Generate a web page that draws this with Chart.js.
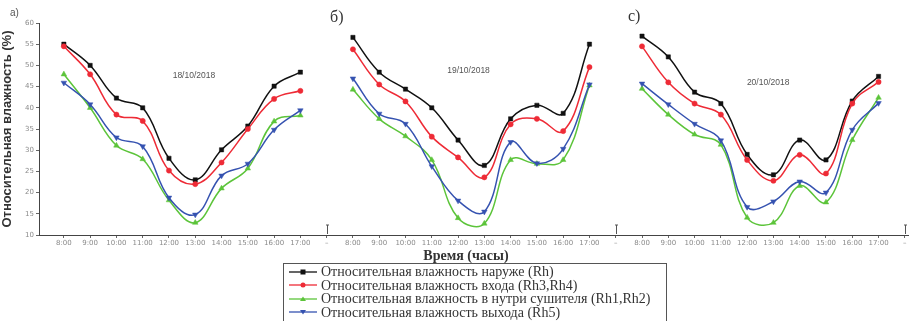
<!DOCTYPE html>
<html><head><meta charset="utf-8">
<script src="https://cdn.jsdelivr.net/npm/chart.js@4.4.1/dist/chart.umd.min.js"></script>
<style>
html,body{margin:0;padding:0;background:#fff;}
#wrap{position:relative;width:913px;height:321px;overflow:hidden;}
#c{position:absolute;left:0;top:0;}
.t{position:absolute;white-space:nowrap;color:#333;}
.serif{font-family:'Liberation Serif','DejaVu Serif',serif;}
.sans{font-family:'Liberation Sans','DejaVu Sans',sans-serif;}
#legend{position:absolute;left:283px;top:263px;width:384px;height:70px;border:1px solid #555;box-sizing:border-box;font-family:'Liberation Serif',serif;font-size:14px;color:#333;padding-top:1px;}
.row{height:13.5px;line-height:13.5px;display:flex;align-items:center;}
.row svg{margin-left:5px;margin-right:4px;flex:none;}
</style></head>
<body><div id="wrap">
<canvas id="c" width="913" height="321"></canvas>
<div class="t sans" style="left:10px;top:7px;font-size:10px;color:#555;">а)</div>
<div class="t serif" style="left:330px;top:8px;font-size:16px;">б)</div>
<div class="t serif" style="left:628px;top:7px;font-size:16px;">с)</div>
<div id="dates"></div>
<div class="t serif" style="left:466px;top:248px;transform:translateX(-50%);font-size:14px;font-weight:bold;color:#333;">Время (часы)</div>
<div id="legend"></div>
</div>
<script>
// ---- data ----
const timeLabels = ['8:00','9:00','10:00','11:00','12:00','13:00','14:00','15:00','16:00','17:00'];
const breakLabel = '–';
const dates = ['18/10/2018','19/10/2018','20/10/2018'];
const yTicks = [10,15,20,25,30,35,40,45,50,55,60];

const seriesNames = [
  'Относительная влажность наруже (Rh)',
  'Относительная влажность входа (Rh3,Rh4)',
  'Относительная влажность в нутри сушителя (Rh1,Rh2)',
  'Относительная влажность выхода (Rh5)'
];

// outside humidity (Rh)
const rhOut_a = [55.0,50.0,42.3,40.0,28.1,23.0,30.1,35.7,45.1,48.4];
const rhOut_b = [56.6,48.4,44.4,40.0,32.4,26.4,37.4,40.6,38.7,55.0];
const rhOut_c = [56.9,52.0,43.7,41.0,29.0,24.2,32.4,27.7,41.6,47.4];
// inlet humidity (Rh3,Rh4)
const rhIn_a = [54.5,47.9,38.4,36.9,25.2,22.0,27.1,35.0,42.1,44.0];
const rhIn_b = [53.8,45.5,41.5,33.2,28.3,23.6,36.1,37.4,34.5,49.6];
const rhIn_c = [54.5,46.0,41.0,38.4,27.7,22.8,28.9,24.5,41.0,46.1];
// inside dryer (Rh1,Rh2)
const rhDry_a = [47.9,40.0,31.1,27.9,18.2,12.9,21.0,25.7,36.8,38.2];
const rhDry_b = [44.3,37.4,33.3,27.7,14.0,12.7,27.7,26.8,27.7,45.3];
const rhDry_c = [44.5,38.4,33.7,31.3,14.1,12.9,21.6,17.7,32.4,42.4];
// outlet (Rh5)
const rhExit_a = [45.9,40.8,33.0,30.9,18.8,14.8,24.0,26.8,34.8,39.4];
const rhExit_b = [46.9,38.6,36.2,26.2,18.1,15.5,31.9,26.9,30.3,45.5];
const rhExit_c = [45.7,40.8,36.2,32.3,16.6,17.9,22.6,20.0,34.8,41.1];

// ---- build ----
const xLabels = [...timeLabels, breakLabel, ...timeLabels, breakLabel, ...timeLabels, breakLabel];
function build(a,b,c){
  const out=[];
  [a,b,c].forEach((arr,p)=>{
    arr.forEach((v,i)=>out.push({x:p*11+i,y:v}));
    out.push({x:p*11+10,y:null});
  });
  return out;
}
const styles = [
  {color:'#111111', point:'rect', r:3},
  {color:'#ee2b36', point:'circle', r:2.6},
  {color:'#5cc43a', point:'triangle', r:3.2},
  {color:'#3552b0', point:'triangle', r:3.2, rot:180}
];
const seriesData = [
  build(rhOut_a,rhOut_b,rhOut_c),
  build(rhIn_a,rhIn_b,rhIn_c),
  build(rhDry_a,rhDry_b,rhDry_c),
  build(rhExit_a,rhExit_b,rhExit_c)
];
const datasets = seriesData.map((d,i)=>({
  label: seriesNames[i],
  data: d,
  borderColor: styles[i].color,
  backgroundColor: styles[i].color,
  borderWidth: 1.5,
  pointStyle: styles[i].point,
  pointRadius: styles[i].r,
  pointRotation: styles[i].rot||0,
  pointBorderWidth: 0.5,
  tension: 0.4,
  spanGaps: false
}));
datasets.reverse();

const breakPlugin = {
  id:'breaks',
  afterDraw(chart){
    const {ctx, scales:{x,y}} = chart;
    ctx.save();
    ctx.strokeStyle='#555'; ctx.lineWidth=1;
    [10,21,32].forEach(v=>{
      const px = Math.round(x.getPixelForValue(v))+0.5;
      const py = y.getPixelForValue(10);
      ctx.beginPath(); ctx.moveTo(px,py-10); ctx.lineTo(px,py-1); ctx.stroke();
      ctx.beginPath(); ctx.moveTo(px-1.5,py-10); ctx.lineTo(px+1.5,py-10); ctx.stroke();
    });
    ctx.restore();
  }
};

const chart = new Chart(document.getElementById('c'), {
  type:'line',
  data:{datasets},
  plugins:[breakPlugin],
  options:{
    responsive:false, animation:false, devicePixelRatio:1,
    layout:{padding:{top:23,right:0,left:0,bottom:0}},
    plugins:{legend:{display:false}, tooltip:{enabled:false}},
    scales:{
      x:{
        type:'linear', min:-0.946, max:32.14,
        afterBuildTicks: s=>{ s.ticks = xLabels.map((_,i)=>({value:i})); },
        afterFit: s=>{ s.height = 86; },
        ticks:{autoSkip:false, maxRotation:0, padding:1, color:'#8a8a8a',
               font:{family:'DejaVu Sans', size:7}, callback:v=>xLabels[v]},
        grid:{drawOnChartArea:false, tickLength:3, color:'#666'},
        border:{color:'#444', width:1}
      },
      y:{
        min:10, max:60,
        afterBuildTicks: s=>{ s.ticks = yTicks.map(v=>({value:v})); },
        afterFit: s=>{ s.width = 39; },
        ticks:{padding:2, color:'#8a8a8a', font:{family:'DejaVu Sans', size:7}},
        grid:{drawOnChartArea:false, tickLength:3, color:'#666'},
        border:{color:'#444', width:1},
        title:{display:true, text:'Относительная влажность (%)', color:'#333',
               font:{family:'Liberation Sans', size:13, weight:'bold'}, padding:{top:0,bottom:2}}
      }
    }
  }
});

const dateDiv = document.getElementById('dates');
const datePos = [[4.95,47.8],[15.4,48.8],[26.8,46.0]];
dates.forEach((d,i)=>{
  const el=document.createElement('div');
  el.className='t sans';
  el.style.cssText='font-size:8.5px;color:#555;transform:translate(-50%,-50%);';
  el.style.left=chart.scales.x.getPixelForValue(datePos[i][0])+'px';
  el.style.top=chart.scales.y.getPixelForValue(datePos[i][1])+'px';
  el.textContent=d;
  dateDiv.appendChild(el);
});

const leg = document.getElementById('legend');
[0,1,2,3].forEach(i=>{
  const st=styles[i];
  let mark='';
  if(st.point==='rect') mark='<rect x="11.5" y="2.5" width="5" height="5" fill="'+st.color+'"/>';
  else if(st.point==='circle') mark='<circle cx="14" cy="5" r="2.5" fill="'+st.color+'"/>';
  else if(st.rot) mark='<polygon points="11,3 17,3 14,7.5" fill="'+st.color+'"/>';
  else mark='<polygon points="11,7 17,7 14,2.5" fill="'+st.color+'"/>';
  const row=document.createElement('div');
  row.className='row';
  row.innerHTML='<svg width="28" height="10"><line x1="0" y1="5" x2="28" y2="5" stroke="'+st.color+'" stroke-width="1.3"/>'+mark+'</svg><span>'+seriesNames[i]+'</span>';
  leg.appendChild(row);
});
</script>
</body></html>
